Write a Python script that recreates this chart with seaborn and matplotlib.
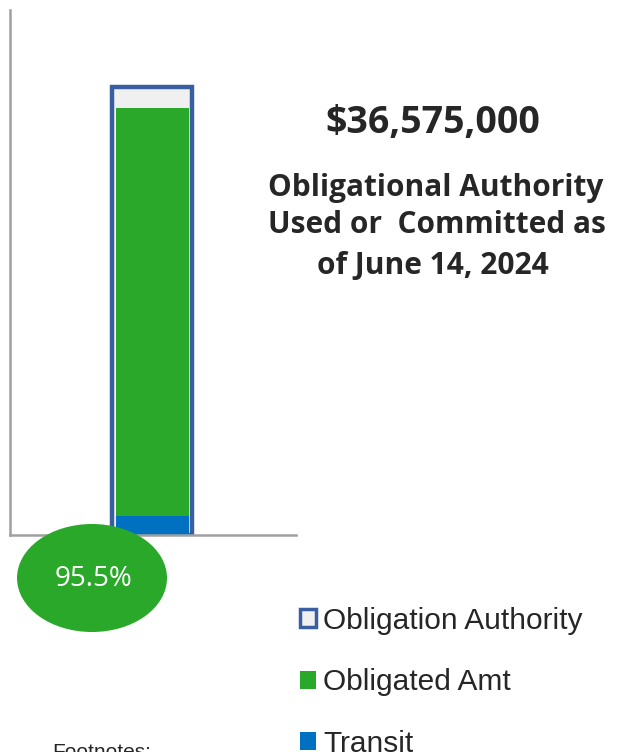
import matplotlib
matplotlib.use("Agg")
import matplotlib.pyplot as plt
import seaborn as sns
import pandas as pd
from matplotlib.patches import Patch, Ellipse

# Data
categories = ["FY2024"]
obligation_authority = [36575000]
obligated_amt = [33380000]   # non-transit obligated
transit = [1550000]
pct_used = "95.5%"
title_amount = "$36,575,000"
title_lines = ["Obligational Authority", "Used or  Committed as", "of June 14, 2024"]
legend_labels = ["Obligation Authority", "Obligated Amt", "Transit"]

sns.set_theme(style="white")
plt.rcParams["font.family"] = ["Liberation Sans", "DejaVu Sans"]

W, H = 618, 752
fig = plt.figure(figsize=(W / 100, H / 100), dpi=100)
ax = fig.add_axes([10 / W, (H - 535) / H, 286 / W, 525 / H])

df = pd.DataFrame({
    "cat": categories,
    "oa": obligation_authority,
    "total": [o + t for o, t in zip(obligated_amt, transit)],
    "transit": transit,
})

blue_edge = "#3A5FA0"
green = "#29A829"
tblue = "#0070C0"

sns.barplot(data=df, x="cat", y="oa", ax=ax, color="#F0F0F0", width=0.28,
            edgecolor=blue_edge, linewidth=3.2, saturation=1)
sns.barplot(data=df, x="cat", y="total", ax=ax, color=green, width=0.255,
            linewidth=0, saturation=1)
sns.barplot(data=df, x="cat", y="transit", ax=ax, color=tblue, width=0.255,
            linewidth=0, saturation=1)

ax.set_xlim(-0.497, 0.503)
ax.set_ylim(0, 42.9e6)
ax.set_xticks([])
ax.set_yticks([])
ax.set_xlabel("")
ax.set_ylabel("")
for s in ["top", "right"]:
    ax.spines[s].set_visible(False)
for s in ["left", "bottom"]:
    ax.spines[s].set_color("#A0A0A0")
    ax.spines[s].set_linewidth(1.8)

# Percentage bubble
ell = Ellipse((92 / W, 1 - 578 / H), 150 / W, 108 / H, transform=fig.transFigure,
              facecolor=green, edgecolor="none", zorder=5)
fig.add_artist(ell)
fig.text(93 / W, 1 - 579 / H, pct_used, ha="center", va="center", color="white",
         fontsize=20, family=["Open Sans", "DejaVu Sans"], zorder=6)

# Title texts
bold_font = ["Open Sans", "DejaVu Sans"]
fig.text(433 / W, 1 - 123 / H, title_amount, ha="center", va="center",
         fontsize=27, fontweight="bold", family=bold_font)
ys = [188, 225, 266]
xs = [436, 437, 433]
for t, x, y in zip(title_lines, xs, ys):
    fig.text(x / W, 1 - y / H, t, ha="center", va="center",
             fontsize=21.5, fontweight="bold", family=bold_font)

# Legend
handles = [
    Patch(facecolor="#F0F0F0", edgecolor=blue_edge, linewidth=2.5),
    Patch(facecolor=green, edgecolor="none"),
    Patch(facecolor=tblue, edgecolor="none"),
]
leg = fig.legend(handles, legend_labels, loc="upper left",
                 bbox_to_anchor=(285 / W, 1 - 592 / H), frameon=False,
                 fontsize=21.5, labelspacing=1.12, handlelength=0.55,
                 handleheight=0.55, handletextpad=0.22, borderpad=0)

fig.text(52 / W, 1 - 752 / H, "Footnotes:", ha="left", va="center", fontsize=15)

fig.savefig("out.png", dpi=100)
